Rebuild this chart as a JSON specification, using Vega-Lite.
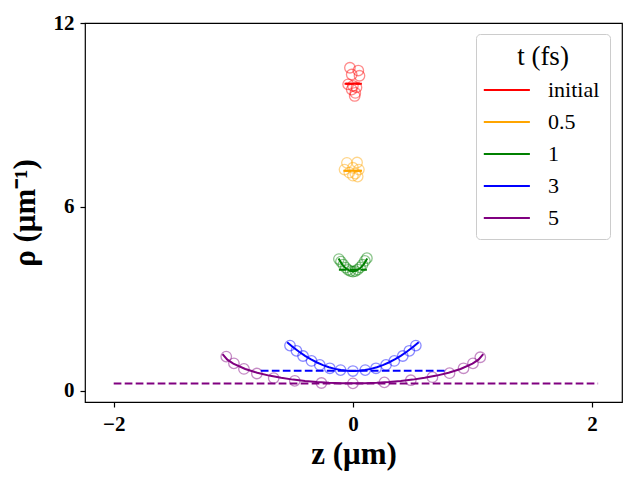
{
  "$schema": "https://vega.github.io/schema/vega-lite/v6.json",
  "width": 537,
  "height": 379,
  "autosize": {"type": "none"},
  "padding": {"left": 85, "top": 23, "right": 18, "bottom": 78},
  "background": "white",
  "config": {
    "view": {"stroke": "black", "strokeWidth": 1.2},
    "font": "Liberation Serif",
    "axis": {
      "domain": false,
      "grid": false,
      "tickColor": "black",
      "tickSize": 5,
      "tickWidth": 1.2,
      "labelFont": "Liberation Serif",
      "labelFontSize": 21,
      "labelFontWeight": "bold",
      "labelColor": "black",
      "titleFont": "Liberation Serif",
      "titleFontSize": 31,
      "titleFontWeight": "bold",
      "titleColor": "black"
    }
  },
  "datasets": {
    "pts": [
      {"t": "initial", "z": -0.025, "rho": 10.54},
      {"t": "initial", "z": 0.045, "rho": 10.45},
      {"t": "initial", "z": -0.01, "rho": 10.32},
      {"t": "initial", "z": 0.055, "rho": 10.28},
      {"t": "initial", "z": -0.04, "rho": 10.0},
      {"t": "initial", "z": 0.0, "rho": 9.95},
      {"t": "initial", "z": 0.03, "rho": 9.9},
      {"t": "initial", "z": -0.01, "rho": 9.83},
      {"t": "initial", "z": 0.02, "rho": 9.72},
      {"t": "initial", "z": 0.015, "rho": 9.62},
      {"t": "0.5", "z": -0.05, "rho": 7.44},
      {"t": "0.5", "z": 0.035, "rho": 7.45},
      {"t": "0.5", "z": -0.07, "rho": 7.22},
      {"t": "0.5", "z": 0.0, "rho": 7.28},
      {"t": "0.5", "z": 0.05, "rho": 7.22},
      {"t": "0.5", "z": -0.03, "rho": 7.12},
      {"t": "0.5", "z": 0.02, "rho": 7.09},
      {"t": "0.5", "z": 0.04, "rho": 6.99},
      {"t": "0.5", "z": 0.0, "rho": 7.02},
      {"t": "1", "z": -0.117, "rho": 4.3},
      {"t": "1", "z": -0.1, "rho": 4.22},
      {"t": "1", "z": -0.08, "rho": 4.12},
      {"t": "1", "z": -0.06, "rho": 4.02},
      {"t": "1", "z": -0.04, "rho": 3.95},
      {"t": "1", "z": -0.02, "rho": 3.91},
      {"t": "1", "z": 0.0, "rho": 3.89},
      {"t": "1", "z": 0.02, "rho": 3.91},
      {"t": "1", "z": 0.04, "rho": 3.96},
      {"t": "1", "z": 0.06, "rho": 4.03},
      {"t": "1", "z": 0.08, "rho": 4.12},
      {"t": "1", "z": 0.1, "rho": 4.24},
      {"t": "1", "z": 0.117, "rho": 4.33},
      {"t": "3", "z": -0.526, "rho": 1.48},
      {"t": "3", "z": -0.472, "rho": 1.31},
      {"t": "3", "z": -0.417, "rho": 1.14},
      {"t": "3", "z": -0.346, "rho": 0.98},
      {"t": "3", "z": -0.277, "rho": 0.85},
      {"t": "3", "z": -0.193, "rho": 0.74},
      {"t": "3", "z": -0.103, "rho": 0.68},
      {"t": "3", "z": 0.0, "rho": 0.65},
      {"t": "3", "z": 0.103, "rho": 0.68},
      {"t": "3", "z": 0.193, "rho": 0.74},
      {"t": "3", "z": 0.277, "rho": 0.85},
      {"t": "3", "z": 0.346, "rho": 0.98},
      {"t": "3", "z": 0.417, "rho": 1.14},
      {"t": "3", "z": 0.472, "rho": 1.31},
      {"t": "3", "z": 0.526, "rho": 1.48},
      {"t": "5", "z": -1.059, "rho": 1.12},
      {"t": "5", "z": -0.995, "rho": 0.9},
      {"t": "5", "z": -0.911, "rho": 0.72},
      {"t": "5", "z": -0.803, "rho": 0.57},
      {"t": "5", "z": -0.662, "rho": 0.42},
      {"t": "5", "z": -0.486, "rho": 0.33},
      {"t": "5", "z": -0.263, "rho": 0.26},
      {"t": "5", "z": 0.0, "rho": 0.25},
      {"t": "5", "z": 0.263, "rho": 0.28},
      {"t": "5", "z": 0.484, "rho": 0.35},
      {"t": "5", "z": 0.665, "rho": 0.45},
      {"t": "5", "z": 0.808, "rho": 0.58},
      {"t": "5", "z": 0.925, "rho": 0.74},
      {"t": "5", "z": 1.004, "rho": 0.9},
      {"t": "5", "z": 1.065, "rho": 1.1}
    ],
    "curves": [
      {"t": "initial", "z": -0.06, "rho": 10.02},
      {"t": "initial", "z": 0.06, "rho": 10.02},
      {"t": "0.5", "z": -0.07, "rho": 7.18},
      {"t": "0.5", "z": 0.07, "rho": 7.18},
      {"t": "1", "z": -0.12, "rho": 4.32},
      {"t": "1", "z": -0.09, "rho": 4.13},
      {"t": "1", "z": -0.06, "rho": 4.0},
      {"t": "1", "z": -0.03, "rho": 3.93},
      {"t": "1", "z": 0.0, "rho": 3.9},
      {"t": "1", "z": 0.03, "rho": 3.93},
      {"t": "1", "z": 0.06, "rho": 4.0},
      {"t": "1", "z": 0.09, "rho": 4.13},
      {"t": "1", "z": 0.12, "rho": 4.32},
      {"t": "3", "z": -0.55, "rho": 1.588},
      {"t": "3", "z": -0.5, "rho": 1.425},
      {"t": "3", "z": -0.45, "rho": 1.278},
      {"t": "3", "z": -0.4, "rho": 1.146},
      {"t": "3", "z": -0.35, "rho": 1.03},
      {"t": "3", "z": -0.3, "rho": 0.929},
      {"t": "3", "z": -0.25, "rho": 0.844},
      {"t": "3", "z": -0.2, "rho": 0.774},
      {"t": "3", "z": -0.15, "rho": 0.72},
      {"t": "3", "z": -0.1, "rho": 0.681},
      {"t": "3", "z": -0.05, "rho": 0.658},
      {"t": "3", "z": 0.0, "rho": 0.65},
      {"t": "3", "z": 0.05, "rho": 0.658},
      {"t": "3", "z": 0.1, "rho": 0.681},
      {"t": "3", "z": 0.15, "rho": 0.72},
      {"t": "3", "z": 0.2, "rho": 0.774},
      {"t": "3", "z": 0.25, "rho": 0.844},
      {"t": "3", "z": 0.3, "rho": 0.929},
      {"t": "3", "z": 0.35, "rho": 1.03},
      {"t": "3", "z": 0.4, "rho": 1.146},
      {"t": "3", "z": 0.45, "rho": 1.278},
      {"t": "3", "z": 0.5, "rho": 1.425},
      {"t": "3", "z": 0.55, "rho": 1.588},
      {"t": "5", "z": -1.09, "rho": 1.202},
      {"t": "5", "z": -1.05, "rho": 1.022},
      {"t": "5", "z": -1.0, "rho": 0.892},
      {"t": "5", "z": -0.9, "rho": 0.718},
      {"t": "5", "z": -0.8, "rho": 0.595},
      {"t": "5", "z": -0.7, "rho": 0.501},
      {"t": "5", "z": -0.6, "rho": 0.428},
      {"t": "5", "z": -0.5, "rho": 0.37},
      {"t": "5", "z": -0.4, "rho": 0.325},
      {"t": "5", "z": -0.3, "rho": 0.292},
      {"t": "5", "z": -0.2, "rho": 0.268},
      {"t": "5", "z": -0.1, "rho": 0.255},
      {"t": "5", "z": 0.0, "rho": 0.25},
      {"t": "5", "z": 0.1, "rho": 0.255},
      {"t": "5", "z": 0.2, "rho": 0.268},
      {"t": "5", "z": 0.3, "rho": 0.292},
      {"t": "5", "z": 0.4, "rho": 0.325},
      {"t": "5", "z": 0.5, "rho": 0.37},
      {"t": "5", "z": 0.6, "rho": 0.428},
      {"t": "5", "z": 0.7, "rho": 0.501},
      {"t": "5", "z": 0.8, "rho": 0.595},
      {"t": "5", "z": 0.9, "rho": 0.718},
      {"t": "5", "z": 1.0, "rho": 0.892},
      {"t": "5", "z": 1.05, "rho": 1.022},
      {"t": "5", "z": 1.09, "rho": 1.202}
    ],
    "dashes": [
      {"t": "initial", "z0": -0.07, "z1": 0.075, "rho": 10.02},
      {"t": "0.5", "z0": -0.08, "z1": 0.08, "rho": 7.18},
      {"t": "1", "z0": -0.117, "z1": 0.117, "rho": 3.95},
      {"t": "3", "z0": -0.77, "z1": 0.786, "rho": 0.66},
      {"t": "5", "z0": -2.0, "z1": 2.05, "rho": 0.24}
    ]
  },
  "resolve": {"legend": {"color": "independent"}},
  "layer": [
    {
      "data": {"name": "pts"},
      "mark": {"type": "point", "shape": "circle", "filled": false, "size": 110, "strokeWidth": 1.3, "opacity": 0.45},
      "encoding": {
        "x": {"field": "z", "type": "quantitative", "scale": {"domain": [-2.24, 2.25], "nice": false, "zero": false}, "axis": {"values": [-2, 0, 2], "format": "d", "title": "z (μm)", "titlePadding": 5, "labelPadding": 6}},
        "y": {"field": "rho", "type": "quantitative", "scale": {"domain": [-0.36, 12], "nice": false, "zero": false}, "axis": {"values": [0, 6, 12], "format": "d", "title": "ρ (μm⁻¹)", "titlePadding": 12, "labelPadding": 6}},
        "color": {"field": "t", "type": "nominal", "scale": {"domain": ["initial", "0.5", "1", "3", "5"], "range": ["red", "orange", "green", "blue", "purple"]}, "legend": null}
      }
    },
    {
      "data": {"name": "dashes"},
      "mark": {"type": "rule", "strokeWidth": 2, "strokeDash": [7.7, 3.3]},
      "encoding": {
        "x": {"field": "z0", "type": "quantitative"},
        "x2": {"field": "z1"},
        "y": {"field": "rho", "type": "quantitative"},
        "color": {"field": "t", "type": "nominal", "legend": null}
      }
    },
    {
      "data": {"name": "curves"},
      "mark": {"type": "line", "strokeWidth": 2},
      "encoding": {
        "x": {"field": "z", "type": "quantitative"},
        "y": {"field": "rho", "type": "quantitative"},
        "order": {"field": "z", "type": "quantitative"},
        "color": {
          "field": "t", "type": "nominal",
          "legend": {
            "title": "t (fs)",
            "orient": "none",
            "legendX": 391,
            "legendY": 11,
            "symbolType": "M-1.2,0H1.68",
            "symbolSize": 1024,
            "symbolStrokeWidth": 2,
            "titleFont": "Liberation Serif",
            "titleFontSize": 27,
            "titleFontWeight": "normal",
            "titleColor": "black",
            "titleAnchor": "middle",
            "titlePadding": 2,
            "labelFont": "Liberation Serif",
            "labelFontSize": 22,
            "labelColor": "black",
            "labelAlign": "left",
            "labelOffset": 28,
            "rowPadding": 4,
            "padding": 10,
            "strokeColor": "#cccccc",
            "fillColor": "white",
            "cornerRadius": 4
          }
        }
      }
    }
  ]
}
